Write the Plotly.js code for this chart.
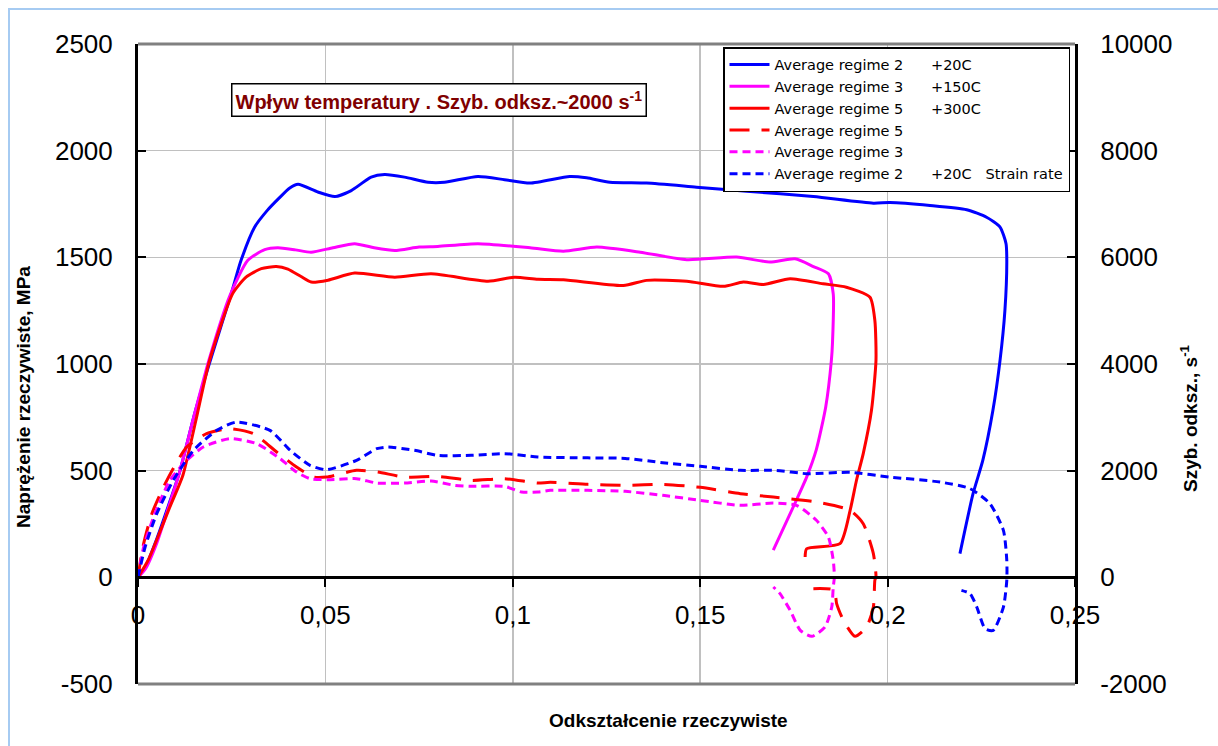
<!DOCTYPE html>
<html>
<head>
<meta charset="utf-8">
<script src="https://cdn.plot.ly/plotly-3.0.1.min.js"></script>
<style>
html,body{margin:0;padding:0;background:#fff;}
#chart{width:1218px;height:746px;}
</style>
</head>
<body>
<div id="chart"></div>
<script>
// ---- Data ----
var seriesNames = [
  "Average regime 2\u00a0\u00a0\u00a0\u00a0\u00a0\u00a0+20C",
  "Average regime 3\u00a0\u00a0\u00a0\u00a0\u00a0\u00a0+150C",
  "Average regime 5\u00a0\u00a0\u00a0\u00a0\u00a0\u00a0+300C",
  "Average regime 5",
  "Average regime 3",
  "Average regime 2\u00a0\u00a0\u00a0\u00a0\u00a0\u00a0+20C\u00a0\u00a0\u00a0Strain rate"
];

// Stress curves (left axis, MPa)
var r2Strain = [0, 0.002, 0.005, 0.008, 0.0111, 0.015, 0.019, 0.0249, 0.0275, 0.0311, 0.0345, 0.0375, 0.0405, 0.0427, 0.048, 0.0525, 0.0569, 0.0622, 0.0658, 0.0711, 0.0774, 0.0818, 0.0907, 0.0978, 0.1046, 0.1152, 0.1197, 0.1259, 0.1357, 0.149, 0.1624, 0.1802, 0.1962, 0.2006, 0.2113, 0.2211, 0.2264, 0.23, 0.2316, 0.2318, 0.2313, 0.230, 0.2281, 0.2254, 0.2228, 0.2193];
var r2Stress = [0, 50, 180, 330, 493, 760, 1000, 1331, 1486, 1641, 1720, 1775, 1825, 1842, 1806, 1785, 1813, 1876, 1888, 1876, 1852, 1852, 1879, 1864, 1848, 1879, 1873, 1852, 1848, 1829, 1810, 1785, 1754, 1757, 1743, 1723, 1688, 1642, 1564, 1486, 1251, 1017, 783, 548, 392, 111];

var r3Strain = [0, 0.002, 0.005, 0.008, 0.0111, 0.015, 0.0189, 0.0245, 0.0293, 0.0338, 0.0373, 0.042, 0.0462, 0.052, 0.0578, 0.063, 0.0685, 0.075, 0.080, 0.0907, 0.1046, 0.1135, 0.1224, 0.134, 0.1464, 0.1597, 0.1686, 0.1753, 0.1802, 0.1842, 0.1855, 0.1853, 0.185, 0.1835, 0.181, 0.1784, 0.1748, 0.1695];
var r3Stress = [0, 40, 160, 320, 493, 760, 1017, 1320, 1486, 1536, 1545, 1535, 1524, 1545, 1564, 1545, 1532, 1548, 1551, 1564, 1545, 1529, 1548, 1524, 1489, 1501, 1478, 1493, 1457, 1423, 1329, 1100, 1017, 800, 600, 470, 329, 127];

var r5Strain = [0, 0.0027, 0.006, 0.0085, 0.012, 0.0155, 0.0191, 0.0253, 0.0289, 0.0329, 0.0369, 0.040, 0.0435, 0.0462, 0.0507, 0.0578, 0.0685, 0.0782, 0.0934, 0.1005, 0.1067, 0.1135, 0.1295, 0.1357, 0.1464, 0.1562, 0.1615, 0.1669, 0.174, 0.1828, 0.189, 0.1953, 0.1966, 0.1969, 0.1957, 0.1935, 0.1917, 0.19, 0.1873, 0.1784, 0.178];
var r5Stress = [0, 80, 220, 330, 480, 740, 1017, 1331, 1408, 1447, 1457, 1445, 1410, 1384, 1393, 1426, 1407, 1423, 1388, 1407, 1397, 1395, 1368, 1392, 1388, 1364, 1384, 1373, 1400, 1376, 1360, 1313, 1204, 1017, 783, 580, 455, 314, 158, 134, 95];

// Strain-rate curves (right axis, 1/s)
var r5RateStrain = [0, 0.0013, 0.0037, 0.0077, 0.013, 0.0183, 0.0245, 0.0308, 0.037, 0.0423, 0.0468, 0.0503, 0.0583, 0.064, 0.0711, 0.080, 0.0889, 0.0978, 0.1067, 0.11, 0.12, 0.13, 0.14, 0.15, 0.1607, 0.1695, 0.181, 0.19, 0.1935, 0.1962, 0.1969, 0.1966, 0.1962, 0.1944, 0.1913, 0.1882, 0.1864, 0.1857, 0.1802];
var r5Rate = [0, 568, 1194, 1818, 2443, 2693, 2787, 2693, 2350, 2068, 1880, 1880, 2006, 1974, 1880, 1893, 1818, 1850, 1768, 1781, 1743, 1725, 1743, 1687, 1569, 1506, 1412, 1256, 1006, 444, 6, -56, -557, -932, -1106, -806, -493, -240, -212];

var r3RateStrain = [0, 0.0015, 0.0045, 0.0085, 0.013, 0.0174, 0.0245, 0.0317, 0.0379, 0.0423, 0.0459, 0.0512, 0.0583, 0.0637, 0.0711, 0.0782, 0.0845, 0.0889, 0.0978, 0.1023, 0.1067, 0.11, 0.12, 0.13, 0.14, 0.15, 0.1607, 0.1695, 0.1757, 0.181, 0.1842, 0.1855, 0.1858, 0.1855, 0.1851, 0.1833, 0.1798, 0.1767, 0.174, 0.1713, 0.1695];
var r3Rate = [0, 568, 1194, 1818, 2193, 2443, 2600, 2506, 2225, 1974, 1850, 1831, 1850, 1768, 1768, 1806, 1725, 1706, 1706, 1600, 1600, 1631, 1631, 1612, 1537, 1443, 1350, 1393, 1350, 1069, 756, 319, 6, -181, -557, -932, -1106, -994, -619, -306, -181];

var r2RateStrain = [0, 0.0019, 0.005, 0.0094, 0.0148, 0.021, 0.0263, 0.0352, 0.0406, 0.0459, 0.0503, 0.0583, 0.0637, 0.0667, 0.0738, 0.080, 0.0889, 0.0978, 0.1067, 0.12, 0.13, 0.14, 0.15, 0.1607, 0.17, 0.1784, 0.19, 0.2006, 0.214, 0.222, 0.2273, 0.2309, 0.2318, 0.2318, 0.2309, 0.2282, 0.226, 0.2238, 0.222, 0.2197];
var r2Rate = [0, 568, 1194, 1818, 2381, 2756, 2911, 2756, 2381, 2100, 2018, 2193, 2412, 2443, 2381, 2287, 2287, 2319, 2256, 2240, 2230, 2150, 2081, 2006, 2006, 1944, 1968, 1880, 1786, 1663, 1381, 881, 319, -56, -557, -994, -962, -557, -306, -244];

// Axis tick labels
var xTickVals = [0, 0.05, 0.1, 0.15, 0.2, 0.25];
var xTickText = ["0", "0,05", "0,1", "0,15", "0,2", "0,25"];
var yTickVals = [-500, 0, 500, 1000, 1500, 2000, 2500];
var yTickText = ["-500", "0", "500", "1000", "1500", "2000", "2500"];
var y2TickVals = [-2000, 0, 2000, 4000, 6000, 8000, 10000];
var y2TickText = ["-2000", "0", "2000", "4000", "6000", "8000", "10000"];

var titleText = "Wpływ temperatury . Szyb. odksz.~2000 s<sup>-1</sup>";
var xTitle = "Odkształcenie rzeczywiste";
var yTitle = "Naprężenie rzeczywiste, MPa";
var y2Title = "Szyb. odksz., s<sup>-1</sup>";

// ---- Traces ----
var BLUE = "#0000ff", MAG = "#ff00ff", RED = "#ff0000";
function tr(x, y, name, color, dash, axis) {
  return {
    x: x, y: y, name: name, type: "scatter", mode: "lines", yaxis: axis,
    line: {color: color, width: 3, dash: dash, shape: "spline", smoothing: 0.6},
    hoverinfo: "skip"
  };
}
var data = [
  tr(r2Strain, r2Stress, seriesNames[0], BLUE, "solid", "y"),
  tr(r3Strain, r3Stress, seriesNames[1], MAG, "solid", "y"),
  tr(r5Strain, r5Stress, seriesNames[2], RED, "solid", "y"),
  tr(r5RateStrain, r5Rate, seriesNames[3], RED, "20px,12px", "y2"),
  tr(r3RateStrain, r3Rate, seriesNames[4], MAG, "8px,5px", "y2"),
  tr(r2RateStrain, r2Rate, seriesNames[5], BLUE, "8px,5px", "y2")
];

var L = 138, R = 143, T = 44, B = 62, W = 1218, H = 746;
var pw = W - L - R, ph = H - T - B;
function px(xp) { return (xp - L) / pw; }
function py(yp) { return 1 - (yp - T) / ph; }

var tickFont = {family: "Liberation Sans, Arial, sans-serif", size: 26, color: "#000"};
var titleFont = {family: "Liberation Sans, Arial, sans-serif", size: 19, color: "#000", weight: "bold"};

var layout = {
  width: W, height: H,
  margin: {l: L, r: R, t: T, b: B, pad: 0},
  paper_bgcolor: "#ffffff",
  plot_bgcolor: "#ffffff",
  showlegend: true,
  font: {family: "Liberation Sans, Arial, sans-serif", color: "#000"},
  xaxis: {
    range: [0, 0.25], anchor: "free", position: (684 - 577) / ph,
    tickvals: xTickVals, ticktext: xTickText,
    showline: true, linecolor: "#000", linewidth: 3,
    showgrid: true, gridcolor: "#c0c0c0", gridwidth: 1.5,
    zeroline: false,
    ticks: "outside", ticklen: 8, tickwidth: 2, tickcolor: "#000",
    tickfont: tickFont, ticklabelstandoff: 6
  },
  xaxis2: {
    range: [0, 0.25], overlaying: "x", anchor: "free", position: (684 - 577) / ph,
    tickvals: xTickVals, showticklabels: false,
    showline: false, showgrid: false, zeroline: false,
    ticks: "inside", ticklen: 8, tickwidth: 2, tickcolor: "#000"
  },
  yaxis: {
    range: [-500, 2500], tickvals: yTickVals, ticktext: yTickText,
    showline: true, linecolor: "#000", linewidth: 3,
    showgrid: true, gridcolor: "#c0c0c0", gridwidth: 1.5,
    zeroline: false,
    ticks: "inside", ticklen: 8, tickwidth: 2, tickcolor: "#000",
    tickfont: tickFont, ticklabelstandoff: 17
  },
  yaxis2: {
    range: [-2000, 10000], tickvals: y2TickVals, ticktext: y2TickText,
    overlaying: "y", side: "right", anchor: "x",
    showline: true, linecolor: "#000", linewidth: 3,
    showgrid: false, zeroline: false,
    ticks: "inside", ticklen: 8, tickwidth: 2, tickcolor: "#000",
    tickfont: tickFont, ticklabelstandoff: 17
  },
  legend: {
    x: px(723), y: py(47), xanchor: "left", yanchor: "top",
    bgcolor: "#ffffff", bordercolor: "#000", borderwidth: 1.5,
    font: {family: "DejaVu Sans, sans-serif", size: 14.5, color: "#000"},
    tracegroupgap: 0, itemwidth: 40
  },
  shapes: [
    {type: "line", xref: "paper", yref: "paper", x0: 0, x1: 1, y0: 1, y1: 1,
     line: {color: "#808080", width: 3}, layer: "above"},
    {type: "line", xref: "paper", yref: "paper", x0: 0, x1: 1, y0: 0, y1: 0,
     line: {color: "#808080", width: 3}, layer: "above"},
    {type: "rect", xref: "paper", yref: "paper", x0: px(9), x1: px(1260), y0: py(800), y1: py(9),
     line: {color: "#a6cbf2", width: 2}, layer: "below"}
  ],
  annotations: [
    {text: titleText, xref: "paper", yref: "paper", x: px(439), y: py(100),
     xanchor: "center", yanchor: "middle", showarrow: false,
     font: {family: "Liberation Sans, Arial, sans-serif", size: 20, color: "#800000", weight: "bold"},
     bgcolor: "#ffffff", bordercolor: "#000", borderwidth: 1.5, borderpad: 3},
    {text: xTitle, xref: "paper", yref: "paper", x: px(668), y: py(720),
     xanchor: "center", yanchor: "middle", showarrow: false, font: titleFont},
    {text: yTitle, xref: "paper", yref: "paper", x: px(23), y: py(397), textangle: -90,
     xanchor: "center", yanchor: "middle", showarrow: false, font: titleFont},
    {text: y2Title, xref: "paper", yref: "paper", x: px(1189), y: py(418), textangle: -90,
     xanchor: "center", yanchor: "middle", showarrow: false, font: titleFont}
  ]
};

Plotly.newPlot("chart", data, layout, {staticPlot: true, displayModeBar: false});
</script>
</body>
</html>
